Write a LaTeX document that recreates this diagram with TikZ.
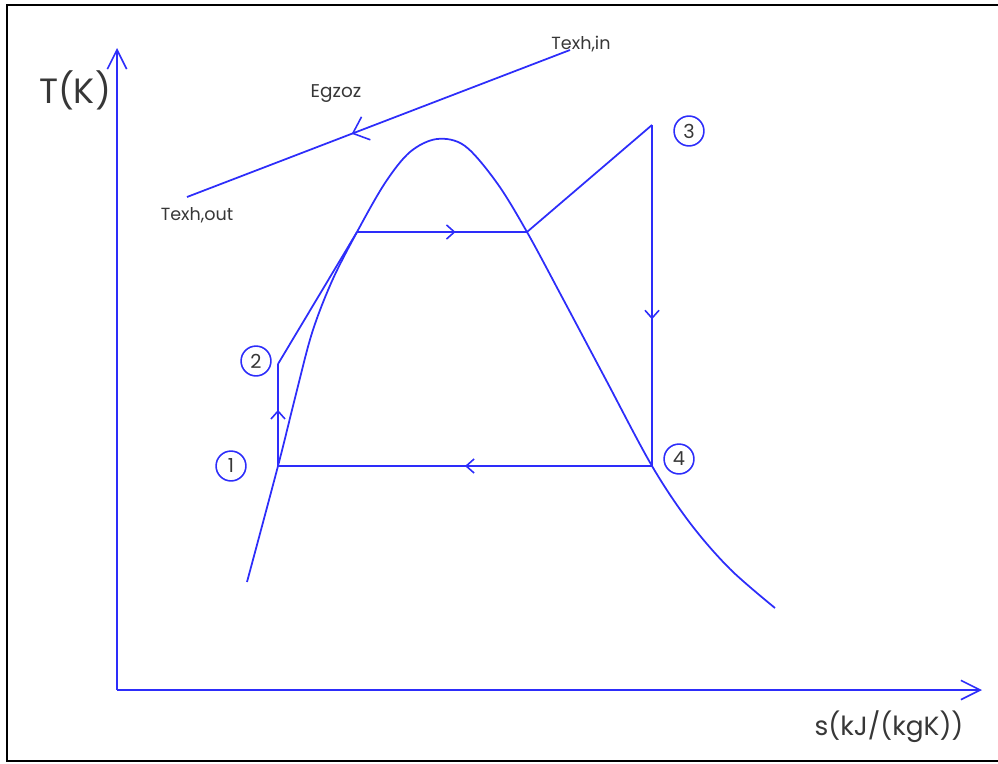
\documentclass[tikz,border=0pt]{standalone}
\usepackage{fontspec}
\setmainfont{Poppins}
\usepackage{xcolor}
\usepackage{tikz}
\usetikzlibrary{arrows.meta, positioning, calc, decorations.markings}
\definecolor{lineblue}{RGB}{45, 45, 250}
\definecolor{labelgray}{RGB}{55, 55, 55}
\tikzset{
  x=0.02cm, y=-0.02cm,
  cycleline/.style={draw=lineblue, line width=1pt},
  axisline/.style={draw=lineblue, line width=1pt},
  axistip/.style={-{Straight Barb[length=11pt, width=11pt, line width=0.9pt]}},
  midarrow/.style={
    decoration={markings, mark=at position #1 with {\arrow{Straight Barb[length=4.5pt, width=8pt, line width=0.9pt]}}},
    postaction={decorate}
  },
  bigmidarrow/.style={
    decoration={markings, mark=at position #1 with {\arrow{Straight Barb[length=8pt, width=14pt, line width=0.9pt]}}},
    postaction={decorate}
  },
  statecircle/.style={
    circle, draw=lineblue, line width=0.9pt, minimum size=17pt, inner sep=0pt,
    text=labelgray, font=\fontsize{11}{11}\selectfont
  },
  textlabel/.style={text=labelgray, inner sep=0pt}
}

\begin{document}
\begin{tikzpicture}

  % frame
  \useasboundingbox (0,0) rectangle (998,764);
  \draw[line width=1.7pt] (1100,5) -- (7,5) -- (7,761) -- (1100,761);

  % axes
  \coordinate (origin) at (117,690);
  \coordinate (ytop) at (117,48);
  \coordinate (xend) at (982,690);
  \draw[axisline, axistip] (origin) -- (ytop);
  \draw[axisline, axistip] (origin) -- (xend);
  \node[textlabel, font=\fontsize{20}{20}\selectfont] (tlabel) at (75,90) {T(K)};
  \node[textlabel, font=\fontsize{15}{15}\selectfont] (slabel) at (889,727) {s(kJ/(kgK))};

  % exhaust gas line
  \coordinate (exhin) at (570,50);
  \coordinate (exhout) at (187,197);
  \draw[cycleline, bigmidarrow=0.57] (exhin) -- (exhout);
  \node[textlabel, font=\fontsize{10}{10}\selectfont] (texhin) at (581,44) {Texh,in};
  \node[textlabel, font=\fontsize{10}{10}\selectfont] (texhout) at (197,215) {Texh,out};
  \node[textlabel, font=\fontsize{10.5}{10.5}\selectfont] (egzoz) at (336,94) {Egzoz};

  % saturation dome
  \draw[cycleline] plot[smooth, tension=0.55] coordinates {
    (247,582) (278,466) (295,398) (312,333) (332,281) (357,232)
    (385,183) (410,152) (437,139) (465,146) (497,183) (527,232)
    (562,297) (605,378) (652,466) (690,523) (730,569) (775,608)
  };

  % cycle states
  \coordinate (s1) at (278,466);
  \coordinate (s2) at (278,364);
  \coordinate (sl) at (357,232);
  \coordinate (sv) at (527,232);
  \coordinate (s3) at (652,125);
  \coordinate (s4) at (652,466);

  \draw[cycleline, midarrow=0.55] (s1) -- (s2);
  \draw[cycleline] (s2) -- (sl);
  \draw[cycleline, midarrow=0.58] (sl) -- (sv);
  \draw[cycleline] (sv) -- (s3);
  \draw[cycleline, midarrow=0.57] (s3) -- (s4);
  \draw[cycleline, midarrow=0.5] (s4) -- (s1);

  % state numbers
  \node[statecircle] (n1) at (231,466) {1};
  \node[statecircle] (n2) at (256,361) {2};
  \node[statecircle] (n3) at (689,131) {3};
  \node[statecircle] (n4) at (679,459) {4};

\end{tikzpicture}
\end{document}
